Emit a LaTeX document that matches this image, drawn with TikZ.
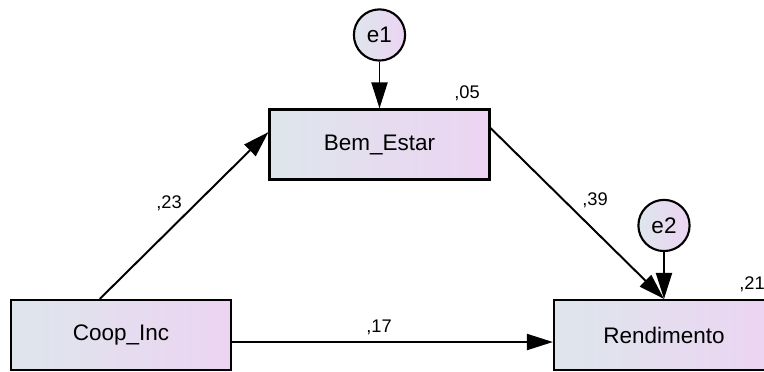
\documentclass[tikz,border=0pt]{standalone}
\usepackage{fontspec}
\setmainfont{Liberation Sans}
\usetikzlibrary{positioning, shapes, arrows.meta}
\definecolor{boxleft}{RGB}{222,230,236}
\definecolor{boxright}{RGB}{236,212,242}

\begin{document}
\begin{tikzpicture}[x=0.025cm, y=-0.025cm,
    var/.style={draw, line width=1.5pt, left color=boxleft, right color=boxright,
        minimum width=5.5cm, minimum height=1.75cm, font=\fontsize{16}{19}\selectfont},
    err/.style={circle, draw, line width=1.5pt, left color=boxleft, right color=boxright,
        minimum size=1.28cm, inner sep=0pt, font=\fontsize{16}{19}\selectfont},
    reg/.style={line width=1.4pt, -{Triangle[length=0.65cm, width=0.4cm]}},
    coef/.style={font=\fontsize{13}{15}\selectfont}]
    \useasboundingbox (0,0) rectangle (764,371);

    % Observed variables
    \node[var] (coop) at (121,335) {Coop\_Inc};
    \node[var] (bem) at (379.5,144.5) {Bem\_Estar};
    \node[var] (rend) at (664,335) {Rendimento};

    % Error terms
    \node[err, above=1.17cm of bem] (e1) {e1};
    \node[err, above=1.17cm of rend] (e2) {e2};

    % Paths
    \draw[reg] (e1) -- (bem);
    \draw[reg] (e2) -- (rend);
    \draw[reg] ([xshift=-0.53cm]coop.north) -- ([yshift=0.31cm]bem.west);
    \draw[reg] ([yshift=0.41cm]bem.east) -- (rend.north);
    \draw[reg] ([yshift=-0.175cm]coop.east) -- ([yshift=-0.175cm]rend.west);

    % Coefficients
    \node[coef] (r1) at (467,93) {,05};
    \node[coef] (r2) at (752,284) {,21};
    \node[coef] (b1) at (169,203) {,23};
    \node[coef] (b2) at (595,200) {,39};
    \node[coef] (b3) at (379,327) {,17};
\end{tikzpicture}
\end{document}
